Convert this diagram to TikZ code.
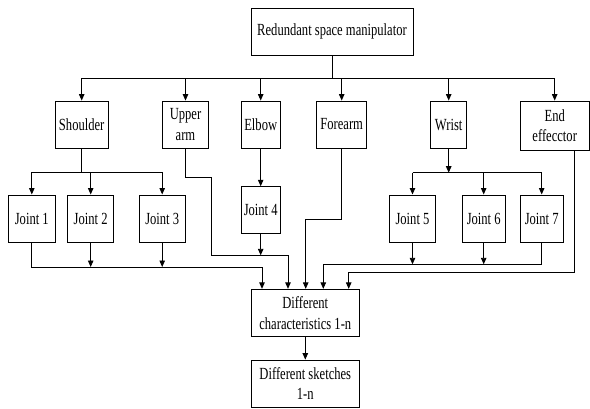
\documentclass[tikz,border=0pt]{standalone}
\usepackage{fontspec}
\setmainfont{Liberation Serif}[FakeStretch=0.74]
\usetikzlibrary{arrows.meta}
\tikzset{
  box/.style={draw, line width=0.9pt, inner sep=0pt, align=center,
    font=\fontsize{17}{20.5}\selectfont},
  arr/.style={line width=0.9pt, -{Triangle[length=6.5pt,width=5.5pt]}},
  ln/.style={line width=0.9pt}
}
\begin{document}
\begin{tikzpicture}[x=1pt,y=-1pt]
\useasboundingbox (0,0) rectangle (590,408);
% nodes
\node[box, minimum width=162pt, minimum height=47pt] (top) at (332,31.5) {Redundant space manipulator};
\node[box, minimum width=53.3pt, minimum height=47pt] (shoulder) at (81.7,124.5) {Shoulder};
\node[box, minimum width=46.4pt, minimum height=47pt] (upper) at (185.5,124.5) {Upper\\arm};
\node[box, minimum width=39.3pt, minimum height=47pt] (elbow) at (260.7,124.5) {Elbow};
\node[box, minimum width=50pt, minimum height=47pt] (forearm) at (341.7,124.5) {Forearm};
\node[box, minimum width=36pt, minimum height=47pt] (wrist) at (448.7,124.5) {Wrist};
\node[box, minimum width=69.3pt, minimum height=49pt] (endeff) at (554.7,125.5) {End\\effecctor};
\node[box, minimum width=47pt, minimum height=47.7pt] (j1) at (31.8,218.8) {Joint 1};
\node[box, minimum width=46pt, minimum height=47.7pt] (j2) at (90.7,218.8) {Joint 2};
\node[box, minimum width=46.3pt, minimum height=47.7pt] (j3) at (162.2,218.8) {Joint 3};
\node[box, minimum width=39.3pt, minimum height=46.6pt] (j4) at (260.7,210) {Joint 4};
\node[box, minimum width=46.4pt, minimum height=47.7pt] (j5) at (412.5,218.8) {Joint 5};
\node[box, minimum width=42.7pt, minimum height=47.7pt] (j6) at (483.7,218.8) {Joint 6};
\node[box, minimum width=43.3pt, minimum height=47.7pt] (j7) at (541.7,218.8) {Joint 7};
\node[box, minimum width=108pt, minimum height=47.4pt] (diff) at (305.3,313) {Different\\characteristics 1-n};
\node[box, minimum width=108pt, minimum height=47.3pt] (sketch) at (305.3,383.7) {Different sketches\\1-n};
% bus coordinates
\coordinate (busT) at (332,78);
\coordinate (sb) at (81.7,172);
\coordinate (ua1) at (211.7,177.3);
\coordinate (ua2) at (288,255.3);
\coordinate (jb) at (262,267);
\coordinate (fa) at (305.7,219);
\coordinate (wb) at (448.7,172.7);
\coordinate (jr) at (323.3,264.3);
\coordinate (ee) at (574,272.7);
\coordinate (ee2) at (348.7,272.7);
% top level
\draw[ln] (top.south) -- (busT);
\draw[ln] (shoulder.north |- busT) -- (endeff.north |- busT);
\foreach \n in {shoulder,upper,elbow,forearm,wrist,endeff}
  \draw[arr] (\n.north |- busT) -- (\n.north);
% shoulder joints
\draw[ln] (shoulder.south) -- (sb);
\draw[ln] (j1.north |- sb) -- (j3.north |- sb);
\foreach \n in {j1,j2,j3}
  \draw[arr] (\n.north |- sb) -- (\n.north);
% upper arm
\draw[arr] (upper.south) |- (ua1) |- (ua2) -- (ua2 |- diff.north);
% elbow
\draw[arr] (elbow) -- (j4);
\draw[arr] (j4.south) -- (j4.south |- ua2);
% joints 1-3 to diff
\draw[arr] (j1.south) |- (jb) -- (jb |- diff.north);
\draw[arr] (j2.south) -- (j2.south |- jb);
\draw[arr] (j3.south) -- (j3.south |- jb);
% forearm
\draw[arr] (forearm.south) |- (fa) -- (fa |- diff.north);
% wrist
\draw[arr] (wrist.south) -- (wb);
\draw[ln] (j5.north |- wb) -- (j7.north |- wb);
\foreach \n in {j5,j6,j7}
  \draw[arr] (\n.north |- wb) -- (\n.north);
% joints 5-7 to diff
\draw[arr] (j7.south) |- (jr) -- (jr |- diff.north);
\draw[arr] (j5.south) -- (j5.south |- jr);
\draw[arr] (j6.south) -- (j6.south |- jr);
% end effector
\draw[arr] (ee |- endeff.south) -- (ee) -- (ee2) -- (ee2 |- diff.north);
% diff to sketch
\draw[arr] (diff) -- (sketch);
\end{tikzpicture}
\end{document}
